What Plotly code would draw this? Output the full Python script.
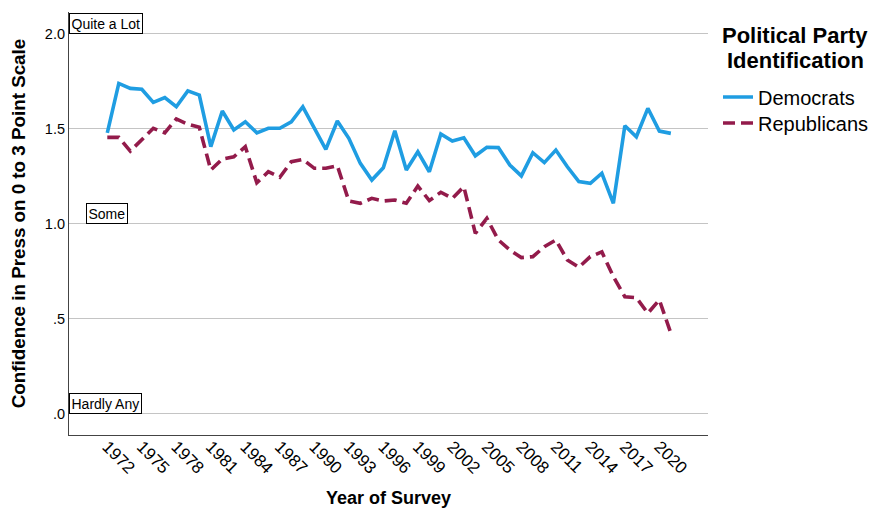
import plotly.graph_objects as go

years = list(range(1972, 2022))
democrats = [1.478, 1.738, 1.712, 1.707, 1.638, 1.663, 1.615, 1.699, 1.677, 1.405,
             1.593, 1.493, 1.536, 1.478, 1.502, 1.502, 1.536, 1.615, 1.503, 1.391,
             1.540, 1.449, 1.317, 1.229, 1.294, 1.489, 1.282, 1.378, 1.273, 1.472,
             1.435, 1.452, 1.357, 1.402, 1.400, 1.308, 1.251, 1.373, 1.321, 1.387,
             1.299, 1.221, 1.212, 1.265, 1.107, 1.515, 1.457, 1.607, 1.487, 1.475]
republicans = [1.454, 1.454, 1.382, 1.440, 1.502, 1.478, 1.551, 1.523, 1.507, 1.282,
               1.340, 1.352, 1.405, 1.215, 1.273, 1.244, 1.326, 1.338, 1.291, 1.291,
               1.305, 1.119, 1.107, 1.133, 1.119, 1.124, 1.107, 1.198, 1.121, 1.165,
               1.133, 1.194, 0.949, 1.028, 0.914, 0.861, 0.821, 0.826, 0.878, 0.914,
               0.808, 0.770, 0.826, 0.851, 0.721, 0.615, 0.610, 0.528, 0.598, 0.423]

x_ticks = list(range(1972, 2021, 3))
y_ticks = [0.0, 0.5, 1.0, 1.5, 2.0]
y_tick_labels = [".0", ".5", "1.0", "1.5", "2.0"]
ref_labels = ["Quite a Lot", "Some", "Hardly Any"]
ref_values = [2.0, 1.0, 0.0]
legend_title_lines = ["Political Party", "Identification"]

FONT = "Arial, Liberation Sans, sans-serif"

# The page body adds an 8px margin, so the figure is sized to fit inside it
# without scrollbars. Plot area on the page: left 69, right 708, top 12, bottom 435.
def py(pix):
    return (435 - pix) / 423.0

def px(pix):
    return (pix - 69) / 639.0

fig = go.Figure()
fig.add_trace(go.Scatter(x=years, y=democrats, mode="lines", name="Democrats",
                         line=dict(color="#1F9DE2", width=3.6), legend="legend"))
fig.add_trace(go.Scatter(x=years, y=republicans, mode="lines", name="Republicans",
                         line=dict(color="#931B4B", width=3.6, dash="12px,6px"),
                         legend="legend2"))

# reference-level labels
ref_x = [None, 1972, None]
for lab, val, rx in zip(ref_labels, ref_values, ref_x):
    common = dict(y=val, yref="y", yanchor="bottom", text=lab, showarrow=False,
                  font=dict(size=14, color="black", family=FONT),
                  bgcolor="white", bordercolor="black", borderwidth=1, borderpad=1.5)
    if rx is None:
        fig.add_annotation(x=0, xref="paper", xanchor="left", **common)
    else:
        fig.add_annotation(x=rx, xref="x", xanchor="center", **common)

# legend title (two tightly spaced lines)
for line, ypix in zip(legend_title_lines, [36, 60]):
    fig.add_annotation(x=px(795), xref="paper", xanchor="center",
                       y=py(ypix), yref="paper", yanchor="middle",
                       text="<b>%s</b>" % line, showarrow=False,
                       font=dict(size=22, color="black", family=FONT))

leg_common = dict(xanchor="left", yanchor="middle", font=dict(size=20, family=FONT),
                  itemwidth=30, bgcolor="rgba(0,0,0,0)", borderwidth=0)

fig.update_layout(
    width=861, height=500,
    margin=dict(l=61, r=161, t=4, b=73, autoexpand=False),
    paper_bgcolor="white", plot_bgcolor="white",
    font=dict(family=FONT, color="black"),
    showlegend=True,
    legend=dict(x=px(718), y=py(97), **leg_common),
    legend2=dict(x=px(718), y=py(123), **leg_common),
    xaxis=dict(
        range=[1968.67, 2024.23], tickmode="array", tickvals=x_ticks,
        ticktext=[str(v) for v in x_ticks], tickangle=45,
        tickfont=dict(size=17, family=FONT), ticklabelstandoff=-6,
        showgrid=False, zeroline=False, showline=True, linecolor="#444",
        linewidth=1.2, ticks="", automargin=False,
        title=dict(text="<b>Year of Survey</b>", font=dict(size=18, family=FONT),
                   standoff=24),
    ),
    yaxis=dict(
        range=[-0.113, 2.114], tickmode="array", tickvals=y_ticks,
        ticktext=y_tick_labels, tickfont=dict(size=14.5, family=FONT),
        showgrid=True, gridcolor="#c4c4c4", gridwidth=1.2, zeroline=False,
        showline=True, linecolor="#444", linewidth=1.2, ticks="", automargin=False,
        title=dict(text="<b>Confidence in Press on 0 to 3 Point Scale</b>",
                   font=dict(size=18.8, family=FONT), standoff=16),
    ),
)

fig.write_html("out.html")
